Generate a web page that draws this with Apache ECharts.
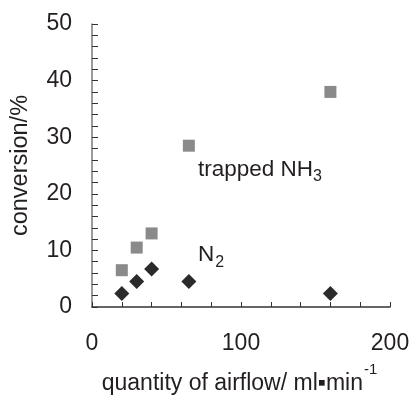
<!DOCTYPE html>
<html>
<head>
<meta charset="utf-8">
<script src="https://cdn.jsdelivr.net/npm/echarts@6.0.0/dist/echarts.min.js"></script>
<style>
  html, body { margin: 0; padding: 0; background: #fff; }
  #main { width: 411px; height: 398px; }
</style>
</head>
<body>
<div id="main"></div>
<script>
// airflow (ml/min) and conversion (%)
const airflow = [20, 30, 40, 65, 160];
const nh3Conv = [6.5, 10.5, 13, 28.5, 38];
const n2Conv = [2.4, 4.5, 6.7, 4.5, 2.4];

const font = 'Liberation Sans, Arial, sans-serif';
const ink = '#231f20';

// measure text widths so the sub/superscripts sit right after their text
const ctx = document.createElement('canvas').getContext('2d');
function textW(s, size) {
    ctx.font = size + 'px ' + font;
    return ctx.measureText(s).width;
}

function txt(s, x, y, size) {
    return { type: 'text', x: x, y: y, silent: true,
        style: { text: s, fontFamily: font, fontSize: size, fill: ink, verticalAlign: 'top' } };
}

// x axis title, centred under the plot
const xTitle = 'quantity of airflow/ ml\u25AAmin';
const xTitleW = textW(xTitle, 23) + textW('-1', 15);
const xTitleLeft = 239 - xTitleW / 2;

const nhW = textW('trapped NH', 22.5);
const nW = textW('N', 22.5);

const chart = echarts.init(document.getElementById('main'));
chart.setOption({
    backgroundColor: '#fff',
    animation: false,
    grid: { left: 92, right: 21, top: 24, bottom: 91, outerBoundsMode: 'none' },
    xAxis: {
        type: 'value',
        min: 0, max: 200, interval: 100,
        axisLine: { lineStyle: { color: '#333', width: 1.5 } },
        axisTick: { inside: true, length: 5, lineStyle: { color: '#333' } },
        minorTick: { show: true, splitNumber: 5, length: 5, lineStyle: { color: '#333' } },
        axisLabel: { fontFamily: font, fontSize: 23, color: ink, margin: 25 },
        splitLine: { show: false }
    },
    yAxis: {
        type: 'value',
        min: 0, max: 50, interval: 10,
        name: 'conversion/%',
        nameLocation: 'middle',
        nameRotate: 90,
        nameGap: 59,
        nameTextStyle: { fontFamily: font, fontSize: 23.5, color: ink },
        axisLine: { show: true, lineStyle: { color: '#7a7a7a', width: 1.5 } },
        axisTick: { show: true, inside: true, length: 6, lineStyle: { color: '#333' } },
        minorTick: { show: true, splitNumber: 5, length: 6, lineStyle: { color: '#333' } },
        axisLabel: { fontFamily: font, fontSize: 23, color: ink, margin: 20 },
        splitLine: { show: false }
    },
    series: [
        {
            name: 'trapped NH3',
            type: 'scatter',
            symbol: 'rect',
            symbolSize: 12,
            itemStyle: { color: '#8a8a8a', opacity: 1 },
            data: airflow.map((x, i) => [x, nh3Conv[i]])
        },
        {
            name: 'N2',
            type: 'scatter',
            symbol: 'diamond',
            symbolSize: 15,
            itemStyle: { color: '#2b2b2b', opacity: 1 },
            data: airflow.map((x, i) => [x, n2Conv[i]])
        }
    ],
    graphic: [
        txt('trapped NH', 198, 158, 22.5),
        txt('3', 198 + nhW, 168.5, 16),
        txt('N', 198, 243.5, 22.5),
        txt('2', 198 + nW + 1, 254.5, 16),
        txt(xTitle, xTitleLeft, 372.5, 23),
        txt('-1', xTitleLeft + textW(xTitle, 23) + 1, 362, 15)
    ]
});
</script>
</body>
</html>
